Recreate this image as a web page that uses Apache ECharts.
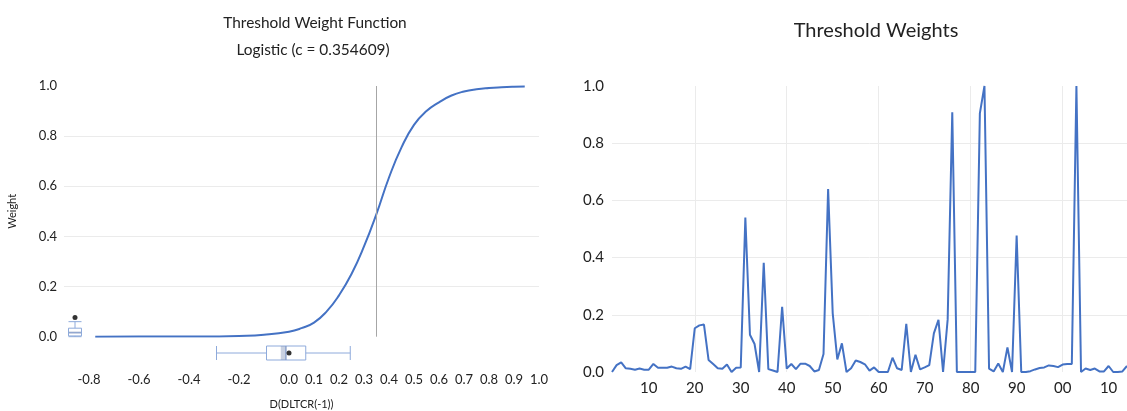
<!DOCTYPE html>
<html>
<head>
<meta charset="utf-8">
<title>Threshold weights</title>
<script src="https://cdn.jsdelivr.net/npm/echarts@6.0.0/dist/echarts.min.js"></script>
<style>
  html, body { margin: 0; padding: 0; background: #fff; }
  #chart { width: 1127px; height: 411px; }
</style>
</head>
<body>
<div id="chart"></div>
<script>
// left panel: logistic weight curve [x, weight]
const thresholdC = 0.354609;
const curvePoints = [
  [-0.775, 0], [-0.6, 0.0003], [-0.4, 0.0005], [-0.3, 0.001], [-0.2, 0.003],
  [-0.1, 0.008], [0.0, 0.02], [0.05, 0.034], [0.1, 0.056], [0.15, 0.1],
  [0.2, 0.165], [0.25, 0.25], [0.3, 0.36], [0.35, 0.49], [0.4, 0.635],
  [0.45, 0.755], [0.5, 0.845], [0.55, 0.9], [0.6, 0.935], [0.65, 0.962],
  [0.7, 0.978], [0.75, 0.987], [0.8, 0.992], [0.85, 0.995], [0.9, 0.997],
  [0.943, 0.998],
];
// box plots: [min, Q1, median, Q3, max]
const xBox = [-0.29, -0.09, -0.013, 0.067, 0.245];
const xMean = 0.0;
const xNotch = [-0.033, -0.008];
const weightBox = [0.0, 0.003, 0.016, 0.034, 0.06];
const weightNotch = [0.012, 0.021];
const weightOutlier = 0.077;

// right panel: threshold weights by year
const firstYear = 1902;
const weights = [
  0.0, 0.024, 0.034, 0.013, 0.011, 0.008, 0.012, 0.008, 0.008, 0.028,
  0.015, 0.015, 0.015, 0.019, 0.013, 0.011, 0.019, 0.010, 0.153, 0.163,
  0.166, 0.042, 0.028, 0.013, 0.011, 0.026, 0.0, 0.015, 0.016, 0.54,
  0.13, 0.098, 0.0, 0.382, 0.01, 0.005, 0.0, 0.228, 0.012, 0.028,
  0.01, 0.029, 0.029, 0.021, 0.002, 0.007, 0.063, 0.64, 0.205, 0.044,
  0.10, 0.0, 0.013, 0.04, 0.035, 0.027, 0.005, 0.016, 0.0, 0.0,
  0.0, 0.05, 0.013, 0.007, 0.168, 0.0, 0.06, 0.009, 0.016, 0.024,
  0.135, 0.182, 0.0, 0.184, 0.908, 0.0, 0.0, 0.0, 0.0, 0.0,
  0.904, 1.0, 0.012, 0.002, 0.03, 0.0, 0.086, 0.0, 0.477, 0.0,
  0.0, 0.003, 0.009, 0.014, 0.016, 0.023, 0.021, 0.017, 0.026, 0.028,
  0.028, 1.0, 0.0, 0.012, 0.007, 0.012, 0.002, 0.002, 0.021, 0.0,
  0.0, 0.002, 0.021,
];
const years = weights.map((w, i) => String(firstYear + i));

const font = 'Lato, "Open Sans", sans-serif';
const textColor = '#222';
const gridColor = '#ebebeb';
const lineBlue = '#4472c4';
const boxBlue = '#8eaadb';
const notchColor = 'rgba(120, 140, 180, 0.4)';

// shaded median band drawn through the axes of its grid
function notchH(params, api) {
  const p0 = api.coord([api.value(0), 0]);
  const p1 = api.coord([api.value(1), 0]);
  const h = api.size([0, 1])[1];
  return { type: 'rect', shape: { x: p0[0], y: p0[1] - h / 2, width: p1[0] - p0[0], height: h }, style: { fill: notchColor } };
}
function notchV(params, api) {
  const p0 = api.coord([0, api.value(1)]);
  const p1 = api.coord([0, api.value(2)]);
  const w = api.size([1, 0])[0] - 2;
  return { type: 'rect', shape: { x: p0[0] - w / 2, y: p1[1], width: w, height: p0[1] - p1[1] }, style: { fill: notchColor } };
}

const chart = echarts.init(document.getElementById('chart'));

chart.setOption({
  animation: false,
  textStyle: { fontFamily: font },
  graphic: [
    { type: 'text', x: 315, y: 23, style: { text: 'Threshold Weight Function', fontSize: 15.4, fontFamily: font, fill: textColor, align: 'center', verticalAlign: 'middle' } },
    { type: 'text', x: 313, y: 50, style: { text: 'Logistic (c = ' + thresholdC + ')', fontSize: 15.4, fontFamily: font, fill: textColor, align: 'center', verticalAlign: 'middle' } },
    { type: 'text', x: 876, y: 31, style: { text: 'Threshold Weights', fontSize: 20, fontFamily: font, fill: textColor, align: 'center', verticalAlign: 'middle' } },
  ],
  grid: [
    { left: 64, top: 86, width: 475, height: 250.7, outerBoundsMode: 'none' },
    { left: 64, top: 346, width: 475, height: 14, outerBoundsMode: 'none' },
    { left: 68, top: 86, width: 14, height: 250.7, outerBoundsMode: 'none' },
    { left: 612, top: 86, right: 0, bottom: 39, outerBoundsMode: 'none' },
  ],
  xAxis: [
    {
      gridIndex: 0,
      type: 'value',
      min: -0.9,
      max: 1.0,
      interval: 0.1,
      axisLine: { show: false },
      axisTick: { show: false },
      splitLine: { show: false },
      axisLabel: {
        margin: 37,
        fontSize: 13,
        color: textColor,
        formatter(v) {
          const r = Math.round(v * 10);
          if (r < 0 && r % 2 !== 0) {
            return '';
          }
          return (r / 10).toFixed(1);
        },
      },
      name: 'D(DLTCR(-1))',
      nameLocation: 'middle',
      nameGap: 62,
      nameTextStyle: { fontSize: 11, color: textColor },
    },
    { gridIndex: 1, type: 'value', min: -0.9, max: 1.0, show: false },
    { gridIndex: 2, type: 'category', data: ['Weight'], show: false },
    {
      gridIndex: 3,
      type: 'category',
      data: years,
      boundaryGap: false,
      axisLine: { show: false },
      axisTick: { show: false },
      axisLabel: {
        margin: 9,
        fontSize: 15,
        color: textColor,
        interval: (idx, val) => Number(val) % 10 === 0,
        formatter: (val) => val.slice(2),
      },
      splitLine: {
        show: true,
        interval: (idx, val) => Number(val) % 20 === 0,
        lineStyle: { color: gridColor },
      },
    },
  ],
  yAxis: [
    {
      gridIndex: 0,
      type: 'value',
      min: 0,
      max: 1,
      interval: 0.2,
      axisLine: { show: false },
      axisTick: { show: false },
      axisLabel: { margin: 7, fontSize: 13, color: textColor, formatter: (v) => v.toFixed(1) },
      splitLine: { show: true, showMinLine: false, showMaxLine: false, lineStyle: { color: gridColor } },
      name: 'Weight',
      nameLocation: 'middle',
      nameGap: 46,
      nameRotate: 90,
      nameTextStyle: { fontSize: 11, color: textColor },
    },
    { gridIndex: 1, type: 'category', data: ['D'], show: false },
    { gridIndex: 2, type: 'value', min: 0, max: 1, show: false },
    {
      gridIndex: 3,
      type: 'value',
      min: 0,
      max: 1,
      interval: 0.2,
      axisLine: { show: false },
      axisTick: { show: false },
      axisLabel: { margin: 8, fontSize: 15, color: textColor, formatter: (v) => v.toFixed(1) },
      splitLine: { show: true, showMinLine: false, showMaxLine: false, lineStyle: { color: gridColor } },
    },
  ],
  series: [
    {
      type: 'line',
      name: 'Weight function',
      xAxisIndex: 0,
      yAxisIndex: 0,
      data: curvePoints,
      smooth: true,
      showSymbol: false,
      lineStyle: { color: lineBlue, width: 2 },
      markLine: {
        silent: true,
        symbol: 'none',
        label: { show: false },
        lineStyle: { color: '#a6a6a6', width: 1, type: 'solid' },
        data: [{ xAxis: thresholdC }],
      },
    },
    {
      type: 'boxplot',
      xAxisIndex: 1,
      yAxisIndex: 1,
      data: [xBox],
      boxWidth: [14, 14],
      itemStyle: { color: '#fff', borderColor: boxBlue, borderWidth: 1 },
      z: 2,
    },
    {
      type: 'custom',
      xAxisIndex: 1,
      yAxisIndex: 1,
      data: [[xNotch[0], xNotch[1]]],
      renderItem: notchH,
      z: 3,
    },
    {
      type: 'scatter',
      xAxisIndex: 1,
      yAxisIndex: 1,
      data: [[xMean, 0]],
      symbolSize: 5,
      itemStyle: { color: '#000' },
      z: 4,
    },
    {
      type: 'boxplot',
      xAxisIndex: 2,
      yAxisIndex: 2,
      data: [weightBox],
      boxWidth: [13, 13],
      itemStyle: { color: '#fff', borderColor: boxBlue, borderWidth: 1 },
      z: 2,
    },
    {
      type: 'custom',
      xAxisIndex: 2,
      yAxisIndex: 2,
      data: [[0, weightNotch[0], weightNotch[1]]],
      renderItem: notchV,
      z: 3,
    },
    {
      type: 'scatter',
      xAxisIndex: 2,
      yAxisIndex: 2,
      data: [[0, weightOutlier]],
      symbolSize: 5,
      itemStyle: { color: '#000' },
      z: 4,
    },
    {
      type: 'line',
      name: 'Threshold Weights',
      xAxisIndex: 3,
      yAxisIndex: 3,
      data: weights,
      showSymbol: false,
      lineStyle: { color: lineBlue, width: 2 },
    },
  ],
});
</script>
</body>
</html>
